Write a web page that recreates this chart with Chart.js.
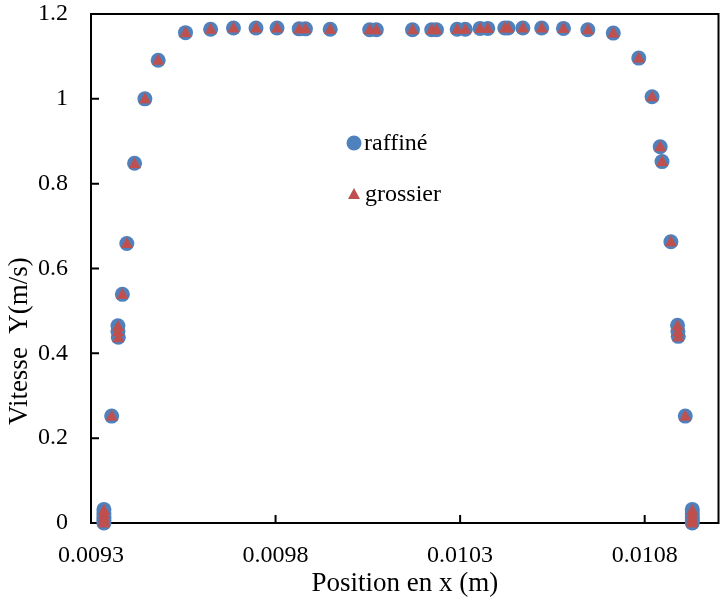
<!DOCTYPE html>
<html>
<head>
<meta charset="utf-8">
<script src="https://cdn.jsdelivr.net/npm/chart.js@4.4.0/dist/chart.umd.min.js"></script>
<style>
  html, body { margin: 0; padding: 0; background: #fff; }
</style>
</head>
<body>
<canvas id="chart" width="726" height="601"></canvas>
<script>
// Profil de vitesse - maillage raffiné vs grossier
const seriesNames = ['raffiné', 'grossier'];

const xRaffine = [0.009335, 0.009335, 0.009335, 0.009335, 0.009335, 0.009356, 0.009373, 0.009373, 0.009374,
  0.009385, 0.009397, 0.009418, 0.009446, 0.009482, 0.009556, 0.009624, 0.009686, 0.009747, 0.009804,
  0.009864, 0.009881, 0.009948, 0.010055, 0.010073, 0.010171, 0.010223, 0.010236, 0.010292, 0.010314,
  0.010354, 0.010375, 0.010421, 0.010430, 0.010470, 0.010521, 0.010580, 0.010646, 0.010715, 0.010784,
  0.010820, 0.010842, 0.010847, 0.010871, 0.010889, 0.010890, 0.010891, 0.010910,
  0.010929, 0.010929, 0.010929, 0.010929, 0.010929];
const yRaffine = [0.032, 0.022, 0.013, 0.006, 0.0, 0.252, 0.465, 0.452, 0.438,
  0.539, 0.659, 0.848, 1.000, 1.091, 1.156, 1.164, 1.167, 1.167, 1.167,
  1.165, 1.165, 1.164, 1.163, 1.163, 1.163, 1.163, 1.163, 1.164, 1.164,
  1.166, 1.166, 1.167, 1.167, 1.167, 1.167, 1.166, 1.163, 1.155, 1.096,
  1.005, 0.887, 0.852, 0.663, 0.466, 0.452, 0.440, 0.252,
  0.032, 0.022, 0.013, 0.006, 0.0];

const xGrossier = [0.009335, 0.009335, 0.009335, 0.009335, 0.009335, 0.009356, 0.009373, 0.009373, 0.009374,
  0.009385, 0.009397, 0.009418, 0.009446, 0.009482, 0.009556, 0.009624, 0.009686, 0.009747, 0.009804,
  0.009864, 0.009881, 0.009948, 0.010055, 0.010073, 0.010171, 0.010223, 0.010236, 0.010292, 0.010314,
  0.010354, 0.010375, 0.010421, 0.010430, 0.010470, 0.010521, 0.010580, 0.010646, 0.010715, 0.010784,
  0.010820, 0.010842, 0.010847, 0.010871, 0.010889, 0.010890, 0.010891, 0.010910,
  0.010929, 0.010929, 0.010929, 0.010929, 0.010929];
const yGrossier = [0.030, 0.021, 0.012, 0.005, 0.0, 0.252, 0.463, 0.451, 0.437,
  0.539, 0.659, 0.847, 1.000, 1.091, 1.156, 1.164, 1.167, 1.167, 1.167,
  1.165, 1.165, 1.164, 1.163, 1.163, 1.163, 1.163, 1.163, 1.164, 1.164,
  1.166, 1.166, 1.167, 1.167, 1.167, 1.167, 1.166, 1.163, 1.155, 1.096,
  1.005, 0.887, 0.852, 0.663, 0.465, 0.451, 0.439, 0.252,
  0.030, 0.021, 0.012, 0.005, 0.0];

const xTicks = [0.0093, 0.0098, 0.0103, 0.0108];
const xTickLabels = ['0.0093', '0.0098', '0.0103', '0.0108'];
const yTicks = [0, 0.2, 0.4, 0.6, 0.8, 1.0, 1.2];
const yTickLabels = ['0', '0.2', '0.4', '0.6', '0.8', '1', '1.2'];
const xTitle = 'Position en x (m)';
const yTitle = 'Vitesse  Y(m/s)';

const blue = '#4F81BD';
const red = '#C0504D';
const serif = '"Liberation Serif", "Times New Roman", serif';
const fontSize = 24;
const titleSize = 27;

function toPoints(xs, ys) {
  return xs.map((x, i) => ({ x: x, y: ys[i] }));
}

// triangle un peu remonté dans sa boîte (rendu type Excel), utilisé comme pointStyle
function makeTriangle(w, h, triH, color) {
  const c = document.createElement('canvas');
  c.width = w;
  c.height = h;
  const g = c.getContext('2d');
  g.fillStyle = color;
  g.beginPath();
  g.moveTo(w / 2, 0);
  g.lineTo(w, triH);
  g.lineTo(0, triH);
  g.closePath();
  g.fill();
  return c;
}
const triangleMarker = makeTriangle(12, 13, 11, red);

// cadre + graduations vers l'intérieur
const framePlugin = {
  id: 'frame',
  beforeDatasetsDraw(chart) {
    const { ctx, chartArea: a, scales } = chart;
    ctx.save();
    ctx.strokeStyle = '#000';
    ctx.lineWidth = 2;
    ctx.strokeRect(a.left, a.top, a.right - a.left, a.bottom - a.top);
    ctx.beginPath();
    scales.x.ticks.forEach(t => {
      const px = scales.x.getPixelForValue(t.value);
      ctx.moveTo(px, a.bottom);
      ctx.lineTo(px, a.bottom - 8);
    });
    scales.y.ticks.forEach(t => {
      const py = scales.y.getPixelForValue(t.value);
      ctx.moveTo(a.left, py);
      ctx.lineTo(a.left + 8, py);
    });
    ctx.stroke();
    ctx.restore();
  }
};

// titre de l'axe Y (décalé vers le bas comme dans l'original) + légende interne
const textPlugin = {
  id: 'texts',
  afterDraw(chart) {
    const ctx = chart.ctx;
    ctx.save();
    ctx.fillStyle = '#000';
    ctx.font = titleSize + 'px ' + serif;
    ctx.translate(20, 425);
    ctx.rotate(-Math.PI / 2);
    ctx.textAlign = 'left';
    ctx.textBaseline = 'middle';
    ctx.fillText(yTitle, 0, 0);
    ctx.restore();

    ctx.save();
    ctx.fillStyle = blue;
    ctx.beginPath();
    ctx.arc(354, 143, 7.5, 0, Math.PI * 2);
    ctx.fill();
    ctx.drawImage(triangleMarker, 348, 188);
    ctx.fillStyle = '#000';
    ctx.font = fontSize + 'px ' + serif;
    ctx.textBaseline = 'alphabetic';
    ctx.fillText(seriesNames[0], 364, 150);
    ctx.fillText(seriesNames[1], 365, 201);
    ctx.restore();
  }
};

new Chart(document.getElementById('chart'), {
  type: 'scatter',
  data: {
    datasets: [
      {
        label: seriesNames[0],
        data: toPoints(xRaffine, yRaffine),
        pointStyle: 'circle',
        pointRadius: 7.5,
        backgroundColor: blue,
        borderWidth: 0,
        clip: false,
        order: 1
      },
      {
        label: seriesNames[1],
        data: toPoints(xGrossier, yGrossier),
        pointStyle: triangleMarker,
        pointRadius: 6,
        backgroundColor: red,
        borderWidth: 0,
        clip: false,
        order: 0
      }
    ]
  },
  options: {
    responsive: false,
    animation: false,
    layout: { padding: { left: 0, right: 1, top: 14, bottom: 0 } },
    plugins: {
      legend: { display: false },
      tooltip: { enabled: false }
    },
    scales: {
      x: {
        type: 'linear',
        min: 0.0093,
        max: 0.011,
        afterBuildTicks: s => { s.ticks = xTicks.map(v => ({ value: v })); },
        afterFit: s => { s.height = 78; s.paddingLeft = 0; s.paddingRight = 0; },
        grid: { display: false, drawTicks: false },
        border: { display: false },
        ticks: {
          padding: 18,
          color: '#000',
          maxRotation: 0,
          autoSkip: false,
          font: { family: serif, size: fontSize },
          callback: (v, i) => xTickLabels[i]
        },
        title: {
          display: true,
          text: xTitle,
          color: '#000',
          font: { family: serif, size: titleSize },
          padding: { top: 0, bottom: 1 }
        }
      },
      y: {
        type: 'linear',
        min: 0,
        max: 1.2,
        afterBuildTicks: s => { s.ticks = yTicks.map(v => ({ value: v })); },
        afterFit: s => { s.width = 91; s.paddingTop = 0; s.paddingBottom = 0; },
        grid: { display: false, drawTicks: false },
        border: { display: false },
        ticks: {
          padding: 23,
          color: '#000',
          autoSkip: false,
          font: { family: serif, size: fontSize },
          callback: (v, i) => yTickLabels[i]
        },
        title: { display: false }
      }
    }
  },
  plugins: [framePlugin, textPlugin]
});
</script>
</body>
</html>
